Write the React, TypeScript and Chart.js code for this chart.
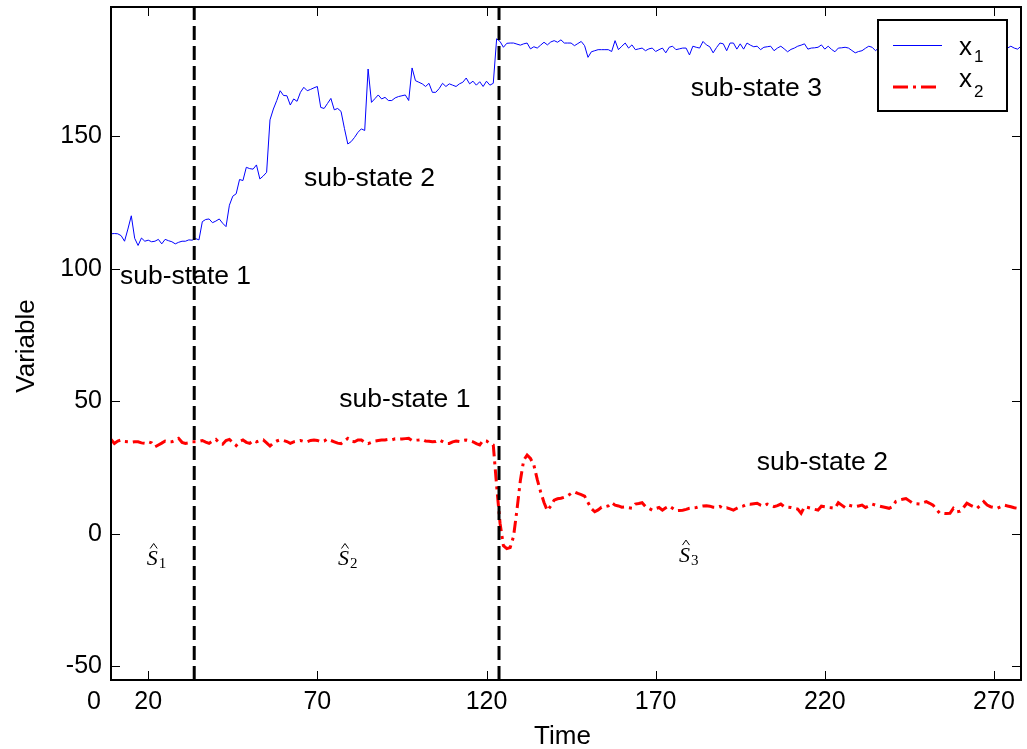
import React, { useEffect, useRef } from 'react';
import { Chart, registerables } from 'chart.js';

Chart.register(...registerables);

const FONT = '"Liberation Sans", Arial, Helvetica, sans-serif';
const SERIF = '"Liberation Serif", "Times New Roman", serif';

const TIME_START = 9;
const X_MIN = 9;
const X_MAX = 278;
const Y_MIN = -55.2;
const Y_MAX = 198.8;

// x1 (blue) sampled at Time = 9, 10, ..., 278
const x1Values = [
  113.2, 113.3, 113.2, 112.5, 110.4, 115, 120, 111.5, 108.8, 111.6,
  110.4, 110.8, 110.2, 110.4, 111.1, 109.4, 111.1, 110.6, 110.2, 109.4,
  110, 110.4, 110.4, 110.9, 110.8, 111.4, 110.9, 117.8, 118.6, 118.8,
  117.4, 118, 118.8, 117.2, 115.9, 124, 127.4, 128.3, 133.7, 133.3,
  138.3, 137.8, 137.6, 139.2, 133.9, 135, 136.4, 156.2, 160.3, 163.5,
  167.2, 165.4, 165.3, 161.8, 164.1, 163.2, 166.6, 168.5, 167.2, 167.7,
  168.3, 168.8, 160.9, 160.5, 162.4, 164.3, 160, 160.5, 159.4, 153,
  147.1, 148, 149.6, 151.5, 152.8, 152.2, 175.4, 162.8, 164.2, 165.6,
  164.1, 164.7, 163.5, 163.5, 164.5, 165, 165.3, 165.6, 163.5, 175.8,
  171, 170.4, 169.8, 168.8, 170, 166.6, 166.6, 168, 170, 168.8,
  169.8, 169.3, 168.8, 169.8, 170.4, 172, 169.8, 170.8, 169.3, 170.6,
  168.8, 170.8, 169.3, 170, 186.8, 185.8, 183.6, 185.1, 185.2, 185.2,
  184.8, 184.4, 184.9, 185.2, 183, 183.8, 183.3, 184.4, 185.5, 184.5,
  185.6, 186.1, 185.5, 186.4, 185.2, 185.2, 185.2, 184.2, 185, 185.8,
  184.2, 179.8, 181.9, 182.3, 182.7, 182.7, 182.7, 182.7, 182, 186.1,
  182.7, 184, 185.2, 183.3, 184.5, 182.7, 183, 183.3, 182.3, 183,
  183.3, 182, 182.7, 183.3, 181.5, 183.6, 184, 182.7, 183, 183.3,
  183.3, 180.7, 184, 183.6, 183.3, 185.8, 184.5, 183.8, 181.5, 183.5,
  185.2, 184.9, 182.3, 185.2, 185.2, 182.9, 184.9, 182.9, 185.2, 184.4,
  183.8, 184, 182.7, 183.6, 183.8, 184, 182.3, 183.3, 184, 183,
  181.9, 182.8, 183.3, 184, 184.4, 184.9, 182.9, 183.3, 183.4, 183.6,
  184.5, 182.9, 184, 182.8, 181.9, 183.3, 183.4, 183.6, 183.3, 182.4,
  181.5, 182, 182.3, 183.2, 184, 183.6, 182.3, 183.5, 182.8, 184.1,
  183.2, 182.6, 183.9, 184.4, 183.1, 182.5, 183.7, 184.2, 183, 182.7,
  183.8, 184.5, 183.3, 182.4, 183.6, 184, 183.1, 182.9, 184.3, 183.4,
  182.6, 183.8, 184.1, 183, 182.7, 183.9, 184.2, 183.2, 182.5, 183.6,
  184.3, 183.1, 182.8, 183.7, 184, 183.3, 184, 183.3, 182.9, 184,
];

// x2 (red) sampled at Time = 9, 10, ..., 278
const x2Values = [
  35.6, 34.1, 35, 35.4, 34.8, 34.7, 34.5, 34.7, 34.7, 34.3,
  34.1, 34.7, 34.3, 32.8, 33.5, 34.2, 35, 34.7, 34.7, 35.2,
  36, 34.5, 34.1, 34.3, 34.7, 34.7, 34.9, 35.2, 34.6, 34.1,
  35, 35.6, 34.4, 33.8, 35.2, 35.6, 34.5, 33.3, 34.8, 35.4,
  34.5, 34.1, 35.2, 34.7, 35.2, 35.4, 34.3, 33.1, 34.3, 35,
  35.4, 35.2, 34.8, 34.1, 34.7, 35, 35.2, 34.8, 34.7, 35.2,
  35.4, 35.2, 34.7, 35, 35.8, 35.2, 34.7, 34.2, 34, 35,
  36, 34.9, 34.7, 35.4, 35.4, 34.5, 34, 34.5, 35, 35.2,
  35.4, 35.4, 35.6, 35.4, 35.8, 35.7, 35.8, 35.9, 36, 35.2,
  35.3, 35.4, 35.6, 35, 34.9, 34.7, 34.8, 35.4, 34.8, 34.1,
  34.1, 34.7, 35, 34.8, 35.2, 35.4, 35.1, 34.7, 34, 33.5,
  35.2, 35, 34.1, 33.5, 18, 4, -4.5, -5.6, -5.2, -1,
  9, 20, 27.8, 29.7, 28.4, 25.9, 20.5, 15.8, 11.8, 8.7,
  10.5, 12.7, 13.2, 13.4, 13.8, 14.3, 15.2, 15.8, 15.2, 14.8,
  14.2, 11.8, 9.5, 8.3, 9, 10, 10.2, 10.5, 11.7, 10.8,
  10.5, 10, 10.1, 9.8, 9.6, 11.2, 11.4, 11.7, 10.3, 9.6,
  8.9, 9.5, 9.9, 8.9, 9.8, 10.5, 9.6, 8.7, 8.8, 8.9,
  9.2, 9.6, 9.8, 9.9, 10.3, 10.5, 10.6, 10.4, 10, 9.9,
  10.3, 9.6, 9.8, 9.4, 8.9, 9.6, 10.2, 10.5, 11.2, 11.1,
  11.3, 11.5, 10.8, 10.4, 11.2, 10.8, 10.2, 10.6, 11.2, 10.2,
  10, 9.9, 9.6, 9.3, 7.7, 10.2, 9.9, 9.6, 9.2, 8.9,
  10.4, 10.2, 9.9, 9.8, 9.6, 11.7, 10.8, 9.9, 10.8, 10.5,
  10.2, 10.5, 10.8, 9.9, 10.5, 11.2, 10.8, 10.5, 10.2, 9.9,
  9.6, 10.2, 12.2, 12.7, 13, 13.3, 12.4, 11.5, 11.3, 11.2,
  11.7, 12.1, 11.5, 10.8, 9.2, 7.7, 7.7, 7.6, 7.7, 9.6,
  8.3, 8.5, 9.9, 11.5, 10.8, 10.2, 9.6, 10.8, 12.1, 10.8,
  10.2, 9.9, 9.6, 10.2, 10.8, 10.5, 10.2, 9.8, 9.6, 10,
];

const timeValues = x1Values.map((_, i) => TIME_START + i);

const xTickValues = [20, 70, 120, 170, 220, 270];
const xTickLabels = ['20', '70', '120', '170', '220', '270'];
const xOriginLabel = '0';
const yTickValues = [-50, 0, 50, 100, 150];
const yTickLabels = ['-50', '0', '50', '100', '150'];

const stateBoundaries = [33.6, 123.7];

const stateLabelTexts = ['sub-state 1', 'sub-state 2', 'sub-state 3', 'sub-state 1', 'sub-state 2'];
const stateLabelX = [11.66, 66.05, 180.4, 76.5, 199.9];
const stateLabelY = [94.3, 131.4, 165.2, 48.0, 24.1];

const estimateSubs = ['1', '2', '3'];
const estimateX = [19.55, 76.1, 176.9];
const estimateY = [-11.8, -11.8, -10.5];

const legendSubs = ['1', '2'];

const X_TICK_PAD = 7;
const TICK_FONT_SIZE = 25;

const decorPlugin = {
  id: 'decor',
  afterDatasetsDraw(chart: any) {
    const { ctx, chartArea: a, scales } = chart;
    const xs = scales.x;
    const ys = scales.y;
    ctx.save();

    // inward tick marks on all four sides
    ctx.strokeStyle = '#000';
    ctx.lineWidth = 1;
    ctx.setLineDash([]);
    ctx.beginPath();
    xTickValues.forEach((v) => {
      const p = Math.round(xs.getPixelForValue(v)) + 0.5;
      ctx.moveTo(p, a.bottom);
      ctx.lineTo(p, a.bottom - 9);
      ctx.moveTo(p, a.top);
      ctx.lineTo(p, a.top + 9);
    });
    yTickValues.forEach((v) => {
      const p = Math.round(ys.getPixelForValue(v)) + 0.5;
      ctx.moveTo(a.left, p);
      ctx.lineTo(a.left + 9, p);
      ctx.moveTo(a.right, p);
      ctx.lineTo(a.right - 9, p);
    });
    ctx.stroke();

    // axes box
    ctx.lineWidth = 2;
    ctx.strokeRect(a.left, a.top, a.right - a.left, a.bottom - a.top);

    // origin label
    ctx.fillStyle = '#000';
    ctx.font = `${TICK_FONT_SIZE}px ${FONT}`;
    ctx.textAlign = 'center';
    ctx.textBaseline = 'middle';
    ctx.fillText(xOriginLabel, a.left - 17, a.bottom + X_TICK_PAD + TICK_FONT_SIZE * 0.6);

    // axis titles
    ctx.font = `26px ${FONT}`;
    ctx.textAlign = 'center';
    ctx.textBaseline = 'alphabetic';
    ctx.fillText('Time', (a.left + a.right) / 2 - 3.5, 743.5);
    ctx.save();
    ctx.translate(33.5, 346);
    ctx.rotate(-Math.PI / 2);
    ctx.fillText('Variable', 0, 0);
    ctx.restore();

    // sub-state labels
    ctx.font = `26.5px ${FONT}`;
    ctx.textAlign = 'left';
    ctx.textBaseline = 'alphabetic';
    stateLabelTexts.forEach((t, i) => {
      ctx.fillText(t, xs.getPixelForValue(stateLabelX[i]), ys.getPixelForValue(stateLabelY[i]));
    });

    // S-hat estimates
    estimateSubs.forEach((s, i) => {
      const px = xs.getPixelForValue(estimateX[i]);
      const py = ys.getPixelForValue(estimateY[i]);
      ctx.font = `italic 22px ${SERIF}`;
      const w = ctx.measureText('S').width;
      ctx.fillText('S', px, py);
      const cx = px + w / 2 + 1.5;
      const hb = py - 16.5;
      ctx.lineWidth = 1;
      ctx.beginPath();
      ctx.moveTo(cx - 3.5, hb);
      ctx.lineTo(cx, hb - 5);
      ctx.lineTo(cx + 3.5, hb);
      ctx.stroke();
      ctx.font = `15px ${SERIF}`;
      ctx.fillText(s, px + w + 1, py + 3);
    });

    // legend
    const lx = a.right - 143;
    const ly = a.top + 13;
    ctx.fillStyle = '#fff';
    ctx.fillRect(lx, ly, 129, 91);
    ctx.strokeStyle = '#000';
    ctx.lineWidth = 2;
    ctx.strokeRect(lx, ly, 129, 91);

    ctx.strokeStyle = '#0000ff';
    ctx.lineWidth = 1;
    ctx.beginPath();
    ctx.moveTo(lx + 15, ly + 25.5);
    ctx.lineTo(lx + 64, ly + 25.5);
    ctx.stroke();

    ctx.strokeStyle = '#ff0000';
    ctx.lineWidth = 3;
    ctx.setLineDash([15, 5, 3, 5]);
    ctx.beginPath();
    ctx.moveTo(lx + 15, ly + 67);
    ctx.lineTo(lx + 60, ly + 67);
    ctx.stroke();
    ctx.setLineDash([]);

    ctx.fillStyle = '#000';
    ctx.textAlign = 'left';
    ctx.textBaseline = 'alphabetic';
    ctx.font = `26px ${FONT}`;
    ctx.fillText('x', lx + 81, ly + 35);
    ctx.fillText('x', lx + 81, ly + 66.7);
    ctx.font = `17px ${FONT}`;
    ctx.fillText(legendSubs[0], lx + 96, ly + 42);
    ctx.fillText(legendSubs[1], lx + 96, ly + 77);

    ctx.restore();
  },
};

export default function App() {
  const canvasRef = useRef<HTMLCanvasElement | null>(null);

  useEffect(() => {
    document.body.style.margin = '0';
    const canvas = canvasRef.current;
    if (!canvas) return;

    const chart = new Chart(canvas, {
      type: 'line',
      data: {
        datasets: [
          ...stateBoundaries.map((b) => ({
            label: 'boundary',
            data: [
              { x: b, y: Y_MIN },
              { x: b, y: Y_MAX },
            ],
            borderColor: '#000000',
            borderWidth: 3,
            borderDash: [14, 6],
            pointRadius: 0,
            fill: false,
          })),
          {
            label: 'x1',
            data: timeValues.map((t, i) => ({ x: t, y: x1Values[i] })),
            borderColor: '#0000ff',
            borderWidth: 1,
            pointRadius: 0,
            tension: 0,
            fill: false,
          },
          {
            label: 'x2',
            data: timeValues.map((t, i) => ({ x: t, y: x2Values[i] })),
            borderColor: '#ff0000',
            borderWidth: 3,
            borderDash: [12, 5, 3, 5],
            pointRadius: 0,
            tension: 0,
            fill: false,
          },
        ],
      },
      options: {
        animation: false,
        responsive: false,
        devicePixelRatio: 1,
        events: [],
        layout: { padding: { top: 7, right: 6, left: 0, bottom: 0 } },
        plugins: { legend: { display: false }, tooltip: { enabled: false } },
        scales: {
          x: {
            type: 'linear',
            min: X_MIN,
            max: X_MAX,
            afterBuildTicks: (s: any) => {
              s.ticks = xTickValues.map((v) => ({ value: v }));
            },
            afterFit: (s: any) => {
              s.height = 69;
              s.paddingLeft = 0;
              s.paddingRight = 0;
              s.paddingTop = 0;
              s.paddingBottom = 0;
            },
            grid: { display: false, drawTicks: false },
            border: { display: false },
            ticks: {
              padding: X_TICK_PAD,
              color: '#000',
              font: { family: FONT, size: TICK_FONT_SIZE },
              maxRotation: 0,
              autoSkip: false,
              callback: (_v: any, i: number) => xTickLabels[i],
            },
          },
          y: {
            type: 'linear',
            min: Y_MIN,
            max: Y_MAX,
            afterBuildTicks: (s: any) => {
              s.ticks = yTickValues.map((v) => ({ value: v }));
            },
            afterFit: (s: any) => {
              s.width = 111;
              s.paddingLeft = 0;
              s.paddingRight = 0;
              s.paddingTop = 0;
              s.paddingBottom = 0;
            },
            grid: { display: false, drawTicks: false },
            border: { display: false },
            ticks: {
              padding: 9,
              color: '#000',
              font: { family: FONT, size: TICK_FONT_SIZE },
              autoSkip: false,
              callback: (_v: any, i: number) => yTickLabels[i],
            },
          },
        },
      },
      plugins: [decorPlugin],
    });

    return () => {
      chart.destroy();
    };
  }, []);

  return (
    <div style={{ width: 1027, height: 749 }}>
      <canvas ref={canvasRef} width={1027} height={749} style={{ display: 'block', width: 1027, height: 749 }} />
    </div>
  );
}
